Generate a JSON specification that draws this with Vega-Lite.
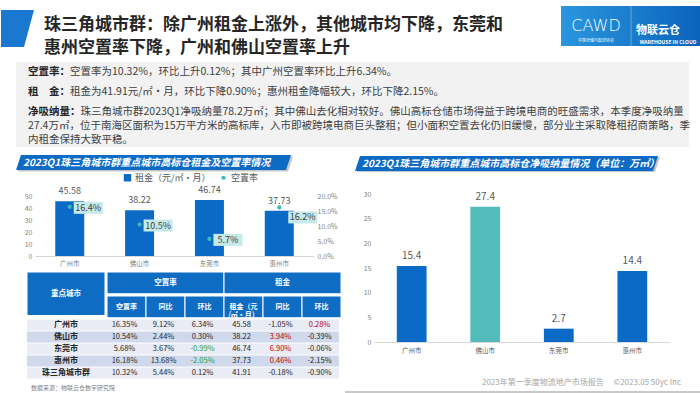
{
"$schema": "https://vega.github.io/schema/vega-lite/v6.json",
"padding": 0,
"background": "white",
"spacing": 0,
"config": {
  "view": {"stroke": null},
  "font": "Noto Sans CJK SC",
  "text": {"font": "Noto Sans CJK SC"},
  "axis": {"labelFont": "Noto Sans CJK SC", "grid": false, "ticks": false, "domain": false},
  "legend": {"labelFont": "Noto Sans CJK SC"},
  "locale": {"number": {"decimal": ".", "thousands": ",", "grouping": [3], "currency": ["$", ""], "minus": "-"}}
},
"datasets": {
  "chart": [
    {"city": "广州市", "rent": 45.58, "vacancy": 0.164, "absorption": 15.4},
    {"city": "佛山市", "rent": 38.22, "vacancy": 0.105, "absorption": 27.4},
    {"city": "东莞市", "rent": 46.74, "vacancy": 0.057, "absorption": 2.7},
    {"city": "惠州市", "rent": 37.73, "vacancy": 0.162, "absorption": 14.4}
  ],
  "table": [
    {"city": "广州市", "vacancy": 0.1635, "v_yoy": 0.0912, "v_qoq": 0.0634, "rent": 45.58, "r_yoy": -0.0105, "r_qoq": 0.0028},
    {"city": "佛山市", "vacancy": 0.1054, "v_yoy": 0.0244, "v_qoq": 0.0030, "rent": 38.22, "r_yoy": 0.0394, "r_qoq": -0.0039},
    {"city": "东莞市", "vacancy": 0.0568, "v_yoy": 0.0367, "v_qoq": -0.0099, "rent": 46.74, "r_yoy": 0.0690, "r_qoq": -0.0006},
    {"city": "惠州市", "vacancy": 0.1618, "v_yoy": 0.1368, "v_qoq": -0.0205, "rent": 37.73, "r_yoy": 0.0046, "r_qoq": -0.0215},
    {"city": "珠三角城市群", "vacancy": 0.1032, "v_yoy": 0.0544, "v_qoq": 0.0012, "rent": 41.91, "r_yoy": -0.0018, "r_qoq": -0.0090}
  ]
},
"vconcat": [
  {"spacing": 0, "hconcat": [
    {"width": 34, "height": 60, "data": {"values": [{}]}, "mark": {"type": "point", "shape": "M-0.919,-1L0.865,-1L0.324,1L-0.919,1Z", "size": 1369, "filled": true, "color": "#1a78d0", "opacity": 1, "yOffset": -1.5}, "encoding": {}},
    {"width": 526, "height": 60,
     "data": {"values": [{"line": 1, "text": "珠三角城市群：除广州租金上涨外，其他城市均下降，东莞和"}, {"line": 2, "text": "惠州空置率下降，广州和佛山空置率上升"}]},
     "mark": {"type": "text", "align": "left", "baseline": "middle", "fontSize": 17, "fontWeight": "bold", "color": "#262626"},
     "encoding": {
       "x": {"datum": 0, "type": "quantitative", "scale": {"domain": [-9, 517], "nice": false, "zero": false}, "axis": null},
       "y": {"field": "line", "type": "quantitative", "scale": {"domain": [-0.087, 2.522], "reverse": true, "nice": false, "zero": false}, "axis": null},
       "text": {"field": "text"}
     }},
    {"spacing": 0, "vconcat": [
      {"width": 140, "height": 5, "data": {"values": []}, "mark": "point", "encoding": {}},
      {"width": 140, "height": 40,
       "view": {"fill": {"gradient": "linear", "x1": 0, "y1": 0, "x2": 1, "y2": 0, "stops": [{"offset": 0, "color": "#2a96df"}, {"offset": 1, "color": "#0b63bb"}]}},
       "data": {"values": [{"part": "CAWD", "sub": "中国仓储与配送协会"}, {"part": "物联云仓", "sub": "WAREHOUSE IN CLOUD"}]},
       "encoding": {"x": {"field": "part", "type": "nominal", "sort": null, "scale": {"paddingInner": 0, "paddingOuter": 0}, "axis": null}},
       "layer": [
         {"transform": [{"filter": "datum.part === 'CAWD'"}], "mark": {"type": "text", "font": "DejaVu Sans", "fontWeight": 200, "fontSize": 16, "color": "white", "dy": 0}, "encoding": {"text": {"field": "part"}}},
         {"transform": [{"filter": "datum.part === 'CAWD'"}], "mark": {"type": "text", "fontSize": 4, "color": "white", "dy": 14.5}, "encoding": {"text": {"field": "sub"}}},
         {"transform": [{"filter": "datum.part === '物联云仓'"}], "mark": {"type": "rule", "color": "white", "opacity": 0.5, "strokeWidth": 0.7}, "encoding": {"x": {"field": "part", "type": "nominal", "bandPosition": 0}}},
         {"transform": [{"filter": "datum.part === '物联云仓'"}], "mark": {"type": "text", "fontSize": 11, "fontWeight": "bold", "color": "white", "dy": 5, "dx": -8}, "encoding": {"text": {"field": "part"}}},
         {"transform": [{"filter": "datum.part === '物联云仓'"}], "mark": {"type": "text", "fontSize": 5, "fontWeight": "bold", "color": "white", "dy": 16, "dx": 2}, "encoding": {"text": {"field": "sub"}}}
       ]},
      {"width": 140, "height": 15, "data": {"values": []}, "mark": "point", "encoding": {}}
    ]}
  ]},
  {"spacing": 0, "hconcat": [
    {"width": 15, "height": 85, "data": {"values": []}, "mark": "point", "encoding": {}},
    {"width": 673, "height": 85, "view": {"fill": "#f2f2f2"},
     "data": {"values": [
       {"para": 1, "head": "空置率：", "body": "空置率为10.32%，环比上升0.12%；其中广州空置率环比上升6.34%。", "cont": ""},
       {"para": 2, "head": "租　金：", "body": "租金为41.91元/㎡·月，环比下降0.90%；惠州租金降幅较大，环比下降2.15%。", "cont": ""},
       {"para": 3, "head": "净吸纳量：", "body": "珠三角城市群2023Q1净吸纳量78.2万㎡；其中佛山去化相对较好。佛山高标仓储市场得益于跨境电商的旺盛需求，本季度净吸纳量", "cont": "27.4万㎡，位于南海区面积为15万平方米的高标库，入市即被跨境电商巨头整租；但小面积空置去化仍旧缓慢，部分业主采取降租招商策略，季\n内租金保持大致平稳。"}
     ]},
     "encoding": {
       "x": {"datum": 0, "type": "quantitative", "scale": {"domain": [-12, 661], "nice": false, "zero": false}, "axis": null},
       "y": {"field": "para", "type": "quantitative", "scale": {"domain": [0.75, 5.0], "reverse": true, "nice": false, "zero": false}, "axis": null}
     },
     "layer": [
       {"mark": {"type": "text", "align": "left", "baseline": "top", "fontSize": 10.5, "lineHeight": 13.5, "fontWeight": "bold", "color": "#262626"}, "encoding": {"text": {"field": "head"}}},
       {"transform": [{"filter": "datum.para < 3"}], "mark": {"type": "text", "align": "left", "baseline": "top", "fontSize": 10.5, "lineHeight": 13.5, "color": "#404040", "dx": 42}, "encoding": {"text": {"field": "body"}}},
       {"transform": [{"filter": "datum.para === 3"}], "mark": {"type": "text", "align": "left", "baseline": "top", "fontSize": 10.5, "lineHeight": 13.5, "color": "#404040", "dx": 52.5}, "encoding": {"text": {"field": "body"}}},
       {"transform": [{"filter": "datum.para === 3"}], "mark": {"type": "text", "align": "left", "baseline": "top", "fontSize": 10.5, "lineHeight": 13.5, "lineBreak": "\n", "color": "#404040", "dy": 14}, "encoding": {"text": {"field": "cont"}}}
     ]},
    {"width": 12, "height": 85, "data": {"values": []}, "mark": "point", "encoding": {}}
  ]},
  {"spacing": 0, "hconcat": [
    {"spacing": 0, "vconcat": [
      {"spacing": 0, "hconcat": [
        {"width": 15, "height": 25, "data": {"values": []}, "mark": "point", "encoding": {}},
        {"width": 275, "height": 25, "data": {"values": [{}]},
         "layer": [
           {"mark": {"type": "point", "shape": "M-0.9636,-0.0545L1,-0.0545L0.9636,0.0545L-1,0.0545Z", "size": 75625, "filled": true, "color": "#9e9e9e", "opacity": 0.6, "xOffset": 2, "yOffset": 4.5}, "encoding": {}},
           {"mark": {"type": "point", "shape": "M-0.9636,-0.0545L1,-0.0545L0.9636,0.0545L-1,0.0545Z", "size": 75625, "filled": true, "color": "#0d6bc5", "opacity": 1, "yOffset": 3}, "encoding": {}},
           {"mark": {"type": "text", "text": "2023Q1珠三角城市群重点城市高标仓租金及空置率情况", "align": "left", "color": "white", "fontSize": 10, "fontWeight": "bold", "fontStyle": "italic", "dx": -130.5, "dy": 3}, "encoding": {}}
         ]},
        {"width": 48, "height": 25, "data": {"values": []}, "mark": "point", "encoding": {}}
      ]},
      {"width": 340, "height": 99, "data": {"name": "chart"},
       "encoding": {"x": {"field": "city", "type": "nominal", "sort": null, "scale": {"range": [34, 313], "paddingInner": 0.585, "paddingOuter": 0.29}, "axis": {"title": null, "labelAngle": 0, "labelFontSize": 6.5, "labelColor": "#7f7f7f", "domain": true, "domainColor": "#d9d9d9", "labelPadding": 4, "offset": -15}}},
       "layer": [
         {"mark": {"type": "bar"}, "encoding": {
           "y": {"field": "rent", "type": "quantitative", "scale": {"domain": [0, 50], "nice": false, "range": [84, 24]}, "axis": {"title": null, "values": [0, 10, 20, 30, 40, 50], "labelFontSize": 7, "labelColor": "#7f7f7f", "labelPadding": 3, "offset": -34}},
           "color": {"datum": "租金（元/㎡·月）", "type": "nominal", "scale": {"domain": ["租金（元/㎡·月）", "空置率"], "range": ["#0b6ac6", "#3fb8b8"]},
             "legend": {"orient": "none", "legendX": 122, "legendY": 173, "direction": "horizontal", "title": null, "labelFontSize": 9, "labelColor": "#595959", "symbolSize": 50, "columnPadding": 8, "labelOffset": 3,
               "encode": {"symbols": {"update": {"shape": {"signal": "datum.value === '空置率' ? 'circle' : 'square'"}, "size": {"signal": "datum.value === '空置率' ? 18 : 55"}}}}}}
         }},
         {"mark": {"type": "text", "dy": -10, "fontSize": 9, "color": "#595959"}, "encoding": {
           "y": {"field": "rent", "type": "quantitative", "scale": {"domain": [0, 50], "nice": false, "range": [84, 24]}, "axis": null},
           "text": {"field": "rent", "type": "quantitative", "format": ".2f"}
         }},
         {"transform": [{"filter": "datum.city !== '惠州市'"}], "mark": {"type": "point", "shape": "M-1,-0.414L1,-0.414L1,0.414L-1,0.414Z", "size": 841, "filled": true, "color": "#c6eaea", "opacity": 1, "xOffset": 18.5, "yOffset": 1}, "encoding": {
           "y": {"field": "vacancy", "type": "quantitative", "scale": {"domain": [0, 0.2], "nice": false, "range": [84, 24]}, "axis": null}
         }},
         {"transform": [{"filter": "datum.city === '惠州市'"}], "mark": {"type": "point", "shape": "M-1,-0.414L1,-0.414L1,0.414L-1,0.414Z", "size": 841, "filled": true, "color": "#c6eaea", "opacity": 1, "xOffset": 23.5, "yOffset": 10}, "encoding": {
           "y": {"field": "vacancy", "type": "quantitative", "scale": {"domain": [0, 0.2], "nice": false, "range": [84, 24]}, "axis": null}
         }},
         {"mark": {"type": "point", "filled": true, "size": 18, "opacity": 1}, "encoding": {
           "y": {"field": "vacancy", "type": "quantitative", "scale": {"domain": [0, 0.2], "nice": false, "range": [84, 24]}, "axis": {"orient": "right", "title": null, "format": ".1%", "values": [0, 0.05, 0.1, 0.15, 0.2], "labelFontSize": 7, "labelColor": "#7f7f7f", "labelPadding": 3, "offset": -27}},
           "color": {"datum": "空置率", "type": "nominal"}
         }},
         {"transform": [{"filter": "datum.city !== '惠州市'"}], "mark": {"type": "text", "dx": 18.5, "dy": 1, "fontSize": 9, "color": "#404040"}, "encoding": {
           "y": {"field": "vacancy", "type": "quantitative", "scale": {"domain": [0, 0.2], "nice": false, "range": [84, 24]}, "axis": null},
           "text": {"field": "vacancy", "type": "quantitative", "format": ".1%"}
         }},
         {"transform": [{"filter": "datum.city === '惠州市'"}], "mark": {"type": "text", "dx": 23.5, "dy": 10, "fontSize": 9, "color": "#404040"}, "encoding": {
           "y": {"field": "vacancy", "type": "quantitative", "scale": {"domain": [0, 0.2], "nice": false, "range": [84, 24]}, "axis": null},
           "text": {"field": "vacancy", "type": "quantitative", "format": ".1%"}
         }}
       ],
       "resolve": {"scale": {"y": "independent"}}
      },
      {"spacing": 0, "hconcat": [
        {"width": 25, "height": 103.5, "data": {"values": []}, "mark": "point", "encoding": {}},
        {"spacing": 0, "vconcat": [
          {"spacing": 0, "hconcat": [
            {"width": 78, "height": 43.5, "data": {"values": [{"label": "重点城市"}]},
             "encoding": {"x": {"field": "label", "type": "nominal", "scale": {"paddingInner": 0, "paddingOuter": 0}, "axis": null}},
             "layer": [
               {"mark": {"type": "rect", "color": "#0f6cc3", "stroke": "white", "strokeWidth": 1}, "encoding": {"y": {"field": "label", "type": "nominal", "scale": {"paddingInner": 0, "paddingOuter": 0}, "axis": null}}},
               {"mark": {"type": "text", "color": "white", "fontWeight": "bold", "fontSize": 7.5}, "encoding": {"text": {"field": "label"}}}
             ]},
            {"spacing": 0, "vconcat": [
              {"width": 234, "height": 21.75, "data": {"values": [{"grp": "空置率"}, {"grp": "租金"}]},
               "encoding": {"x": {"field": "grp", "type": "nominal", "sort": null, "scale": {"paddingInner": 0, "paddingOuter": 0}, "axis": null}},
               "layer": [
                 {"mark": {"type": "rect", "color": "#0f6cc3", "stroke": "white", "strokeWidth": 1}, "encoding": {"y": {"datum": "h", "type": "nominal", "scale": {"domain": ["h"], "paddingInner": 0, "paddingOuter": 0}, "axis": null}}},
                 {"mark": {"type": "text", "color": "white", "fontWeight": "bold", "fontSize": 7.5}, "encoding": {"text": {"field": "grp"}}}
               ]},
              {"width": 234, "height": 21.75, "data": {"values": [{"key": "vacancy", "label": "空置率"}, {"key": "v_yoy", "label": "同比"}, {"key": "v_qoq", "label": "环比"}, {"key": "rent", "label": "租金（元\n/㎡·月）"}, {"key": "r_yoy", "label": "同比"}, {"key": "r_qoq", "label": "环比"}]},
               "encoding": {"x": {"field": "key", "type": "nominal", "sort": null, "scale": {"paddingInner": 0, "paddingOuter": 0}, "axis": null}},
               "layer": [
                 {"mark": {"type": "rect", "color": "#0f6cc3", "stroke": "white", "strokeWidth": 1}, "encoding": {"y": {"datum": "h", "type": "nominal", "scale": {"domain": ["h"], "paddingInner": 0, "paddingOuter": 0}, "axis": null}}},
                 {"mark": {"type": "text", "color": "white", "fontWeight": "bold", "fontSize": 7, "lineBreak": "\n", "lineHeight": 8.5}, "encoding": {"text": {"field": "label"}}}
               ]}
            ]}
          ]},
          {"spacing": 0, "hconcat": [
            {"width": 78, "height": 60, "data": {"name": "table"},
             "encoding": {"y": {"field": "city", "type": "nominal", "sort": null, "scale": {"paddingInner": 0.1, "paddingOuter": 0.05}, "axis": null}},
             "layer": [
               {"mark": {"type": "rect"}, "encoding": {
                 "x": {"datum": "c", "type": "nominal", "scale": {"domain": ["c"], "paddingInner": 0, "paddingOuter": 0}, "axis": null},
                 "color": {"condition": {"test": "datum.city === '佛山市' || datum.city === '惠州市'", "value": "#d0d8ec"}, "value": "#e9ecf5"}
               }},
               {"mark": {"type": "text", "fontWeight": "bold", "fontSize": 8, "color": "#262626"}, "encoding": {"text": {"field": "city"}}}
             ]},
            {"width": 234, "height": 60, "data": {"name": "table"},
             "transform": [{"fold": ["vacancy", "v_yoy", "v_qoq", "rent", "r_yoy", "r_qoq"], "as": ["col", "value"]}],
             "encoding": {
               "x": {"field": "col", "type": "nominal", "scale": {"domain": ["vacancy", "v_yoy", "v_qoq", "rent", "r_yoy", "r_qoq"], "paddingInner": 0, "paddingOuter": 0}, "axis": null},
               "y": {"field": "city", "type": "nominal", "scale": {"domain": ["广州市", "佛山市", "东莞市", "惠州市", "珠三角城市群"], "paddingInner": 0.1, "paddingOuter": 0.05}, "axis": null}
             },
             "layer": [
               {"mark": {"type": "rect"}, "encoding": {
                 "color": {"condition": {"test": "datum.city === '佛山市' || datum.city === '惠州市'", "value": "#d0d8ec"}, "value": "#e9ecf5"}
               }},
               {"transform": [{"filter": "datum.col !== 'rent'"}], "mark": {"type": "text", "fontSize": 7.5}, "encoding": {
                 "text": {"field": "value", "type": "quantitative", "format": ".2%"},
                 "color": {"condition": [{"test": "(datum.col === 'r_yoy' || datum.col === 'r_qoq') && datum.value > 0", "value": "#c00000"}, {"test": "datum.col === 'v_qoq' && datum.value < 0", "value": "#1e9e3a"}], "value": "#262626"}
               }},
               {"transform": [{"filter": "datum.col === 'rent'"}], "mark": {"type": "text", "fontSize": 7.5, "color": "#262626"}, "encoding": {
                 "text": {"field": "value", "type": "quantitative", "format": ".2f"}
               }}
             ]}
          ]}
        ]},
        {"width": 3, "height": 103.5, "data": {"values": []}, "mark": "point", "encoding": {}}
      ]},
      {"width": 340, "height": 16.5, "data": {"values": [{}]},
       "mark": {"type": "text", "text": "数据来源：物联云仓数字研究院", "align": "left", "fontSize": 6, "color": "#7f7f7f", "dy": 1},
       "encoding": {"x": {"datum": 0, "type": "quantitative", "scale": {"domain": [-30, 310], "nice": false, "zero": false}, "axis": null}}},
      {"width": 340, "height": 4, "view": {"fill": "#c8c8c8"}, "data": {"values": []}, "mark": "point", "encoding": {}}
    ]},
    {"spacing": 0, "vconcat": [
      {"spacing": 0, "hconcat": [
        {"width": 10, "height": 25, "data": {"values": []}, "mark": "point", "encoding": {}},
        {"width": 303, "height": 25, "data": {"values": [{}]},
         "layer": [
           {"mark": {"type": "point", "shape": "M-0.967,-0.0495L1,-0.0495L0.967,0.0495L-1,0.0495Z", "size": 91809, "filled": true, "color": "#9e9e9e", "opacity": 0.6, "xOffset": 2, "yOffset": 5}, "encoding": {}},
           {"mark": {"type": "point", "shape": "M-0.967,-0.0495L1,-0.0495L0.967,0.0495L-1,0.0495Z", "size": 91809, "filled": true, "color": "#0d6bc5", "opacity": 1, "yOffset": 4}, "encoding": {}},
           {"mark": {"type": "text", "text": "2023Q1珠三角城市群重点城市高标仓净吸纳量情况（单位：万㎡）", "align": "left", "color": "white", "fontSize": 10, "fontWeight": "bold", "fontStyle": "italic", "dx": -144.5, "dy": 4}, "encoding": {}}
         ]},
        {"width": 45, "height": 25, "data": {"values": []}, "mark": "point", "encoding": {}}
      ]},
      {"width": 360, "height": 190, "data": {"name": "chart"},
       "encoding": {
         "x": {"field": "city", "type": "nominal", "sort": null, "scale": {"range": [29, 325], "paddingInner": 0.595, "paddingOuter": 0.31}, "axis": {"title": null, "labelAngle": 0, "labelFontSize": 6.5, "labelColor": "#595959", "domain": true, "domainColor": "#d9d9d9", "labelPadding": 5, "offset": -20}},
         "y": {"field": "absorption", "type": "quantitative", "scale": {"domain": [0, 30], "nice": false, "range": [170, 22]}, "axis": {"title": null, "values": [0, 5, 10, 15, 20, 25, 30], "labelFontSize": 7, "labelColor": "#7f7f7f", "labelPadding": 3, "offset": -29}}
       },
       "layer": [
         {"mark": {"type": "bar"}, "encoding": {"color": {"condition": {"test": "datum.city === '佛山市'", "value": "#55bcbd"}, "value": "#0b6ac6"}}},
         {"mark": {"type": "text", "dy": -10, "fontSize": 10, "color": "#595959"}, "encoding": {"text": {"field": "absorption", "type": "quantitative", "format": ".1f"}}}
       ]},
      {"width": 360, "height": 13, "data": {"values": []}, "mark": "point", "encoding": {}},
      {"width": 360, "height": 16, "data": {"values": [{}]},
       "mark": {"type": "text", "text": "2023年第一季度物流地产市场报告　 ©2023.05 50yc Inc", "align": "right", "fontSize": 8, "color": "#a6a6a6"},
       "encoding": {"x": {"datum": 336, "type": "quantitative", "scale": {"domain": [0, 360], "nice": false, "zero": false}, "axis": null}}},
      {"width": 360, "height": 4, "view": {"fill": "#c8c8c8"}, "data": {"values": []}, "mark": "point", "encoding": {}}
    ]}
  ]}
]
}
